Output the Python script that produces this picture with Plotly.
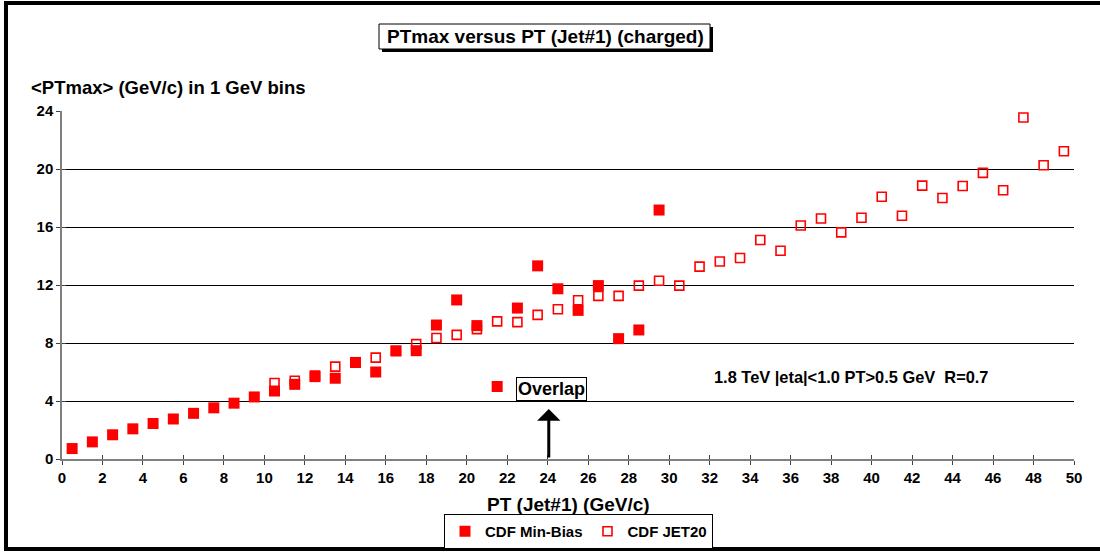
import plotly.graph_objects as go

# ---- data ----
minbias_x = [0.5, 1.5, 2.5, 3.5, 4.5, 5.5, 6.5, 7.5, 8.5, 9.5,
             10.5, 11.5, 12.5, 13.5, 14.5, 15.5, 16.5, 17.5, 18.5, 19.5,
             20.5, 21.5, 22.5, 23.5, 24.5, 25.5, 26.5, 27.5, 28.5, 29.5]
minbias_y = [0.72, 1.18, 1.67, 2.08, 2.45, 2.76, 3.15, 3.53, 3.85, 4.28,
             4.69, 5.15, 5.68, 5.57, 6.66, 6.0, 7.46, 7.47, 9.24, 10.97,
             9.2, 5.0, 10.41, 13.32, 11.74, 10.25, 11.96, 8.3, 8.9, 17.17]

jet20_x = [10.5, 11.5, 12.5, 13.5, 14.5, 15.5, 16.5, 17.5, 18.5, 19.5,
           20.5, 21.5, 22.5, 23.5, 24.5, 25.5, 26.5, 27.5, 28.5, 29.5,
           30.5, 31.5, 32.5, 33.5, 34.5, 35.5, 36.5, 37.5, 38.5, 39.5,
           40.5, 41.5, 42.5, 43.5, 44.5, 45.5, 46.5, 47.5, 48.5, 49.5]
jet20_y = [5.24, 5.4, 5.75, 6.37, 6.65, 6.99, 7.45, 7.92, 8.35, 8.56,
           8.96, 9.49, 9.44, 9.94, 10.33, 10.95, 11.25, 11.25, 11.96, 12.29,
           11.96, 13.27, 13.62, 13.86, 15.1, 14.36, 16.1, 16.59, 15.63, 16.64,
           18.09, 16.78, 18.85, 18.0, 18.83, 19.73, 18.53, 23.55, 20.26, 21.22]

x_ticks = list(range(0, 51, 2))
y_ticks = list(range(0, 25, 4))

FONT = "Arial, 'Liberation Sans', sans-serif"
RED = "#FF0000"

fig = go.Figure()

fig.add_trace(go.Scatter(
    x=jet20_x, y=jet20_y, mode="markers", name="<b>CDF JET20</b>", legendrank=2,
    marker=dict(symbol="square-open", size=9, color=RED, line=dict(width=1.6, color=RED)),
))
fig.add_trace(go.Scatter(
    x=minbias_x, y=minbias_y, mode="markers", name="<b>CDF Min-Bias</b>", legendrank=1,
    marker=dict(symbol="square", size=11, color=RED, line=dict(width=0)),
))
# helper (empty) trace so the inside half of the crossing ticks can be drawn
fig.add_trace(go.Scatter(x=[None], y=[None], xaxis="x2", yaxis="y2",
                         showlegend=False, hoverinfo="skip"))

L, R, T, B = 62, 26, 111, 93
W, H = 1100, 552
pw = W - L - R
ph = H - T - B


def px(x):
    return (x - L) / pw


def py(y):
    return (H - B - y) / ph


axis_font = dict(family=FONT, size=15, color="black")

fig.update_layout(
    width=W, height=H,
    margin=dict(l=L, r=R, t=T, b=B, autoexpand=False),
    paper_bgcolor="white", plot_bgcolor="white",
    font=dict(family=FONT, color="black"),
    xaxis=dict(range=[0, 50], tickvals=x_ticks, ticktext=[f"<b>{v}</b>" for v in x_ticks],
               ticks="outside", ticklen=4, tickwidth=1, tickcolor="#404040",
               showline=True, linecolor="#808080", linewidth=1.5,
               showgrid=False, zeroline=False, tickfont=axis_font),
    yaxis=dict(range=[0, 24], tickvals=y_ticks, ticktext=[f"<b>{v}</b>" for v in y_ticks],
               ticks="outside", ticklen=4, tickwidth=1, tickcolor="#404040",
               showline=True, linecolor="#808080", linewidth=1.5,
               showgrid=True, gridcolor="black", gridwidth=1,
               zeroline=False, tickfont=axis_font),
    xaxis2=dict(range=[0, 50], tickvals=x_ticks, ticks="inside", ticklen=4, tickwidth=1,
                tickcolor="#404040", showticklabels=False, showgrid=False, zeroline=False,
                showline=False, overlaying="x", anchor="y2"),
    yaxis2=dict(range=[0, 24], tickvals=y_ticks, ticks="inside", ticklen=4, tickwidth=1,
                tickcolor="#404040", showticklabels=False, showgrid=False, zeroline=False,
                showline=False, overlaying="y", anchor="x2", side="left"),
    showlegend=True,
    legend=dict(orientation="h", x=px(578.5), xanchor="center", y=py(549), yanchor="bottom",
                bgcolor="white", bordercolor="black", borderwidth=1,
                font=dict(family=FONT, size=15, color="black"),
                itemwidth=30, tracegroupgap=0),
)

shapes = [
    # outer frame
    dict(type="rect", xref="paper", yref="paper", x0=px(6), x1=px(1115), y0=py(549), y1=py(3),
         line=dict(color="black", width=4), fillcolor="rgba(0,0,0,0)", layer="below"),
    # title shadow
    dict(type="rect", xref="paper", yref="paper", x0=px(382), x1=px(713), y0=py(52), y1=py(27),
         line=dict(width=0), fillcolor="black", layer="above"),
    # title box
    dict(type="rect", xref="paper", yref="paper", x0=px(379), x1=px(710), y0=py(49), y1=py(24),
         line=dict(color="black", width=1), fillcolor="white", layer="above"),
]
fig.update_layout(shapes=shapes)

annotations = [
    dict(text="<b>PTmax versus PT (Jet#1) (charged)</b>", xref="paper", yref="paper",
         x=px(545.5), y=py(36.5), xanchor="center", yanchor="middle", showarrow=False,
         font=dict(family=FONT, size=19, color="black")),
    dict(text="<b><PTmax> (GeV/c) in 1 GeV bins</b>", xref="paper", yref="paper",
         x=px(29), y=py(87), xanchor="left", yanchor="middle", showarrow=False,
         font=dict(family=FONT, size=18.5, color="black")),
    dict(text="<b>PT (Jet#1) (GeV/c)</b>", xref="paper", yref="paper",
         x=px(568), y=py(504), xanchor="center", yanchor="middle", showarrow=False,
         font=dict(family=FONT, size=19, color="black")),
    dict(text="<b>1.8 TeV |eta|<1.0 PT>0.5 GeV  R=0.7</b>", xref="x", yref="y",
         x=32.1, y=5.66, xanchor="left", yanchor="middle", showarrow=False,
         font=dict(family=FONT, size=16.4, color="black")),
    dict(text="<b>Overlap</b>", xref="x", yref="y", x=24.18, y=4.0,
         xanchor="center", yanchor="bottom", showarrow=False,
         bordercolor="black", borderwidth=1, borderpad=1, bgcolor="white",
         font=dict(family=FONT, size=18, color="black")),
    dict(text="", xref="x", yref="y", x=24.05, y=3.45, axref="x", ayref="y",
         ax=24.05, ay=0, showarrow=True, arrowhead=1, arrowsize=1.3, arrowwidth=3,
         arrowcolor="black", standoff=0, startstandoff=0),
]
fig.update_layout(annotations=annotations)

fig.write_html("out.html", config={"displayModeBar": False},
               post_script="document.body.style.margin='0';")
